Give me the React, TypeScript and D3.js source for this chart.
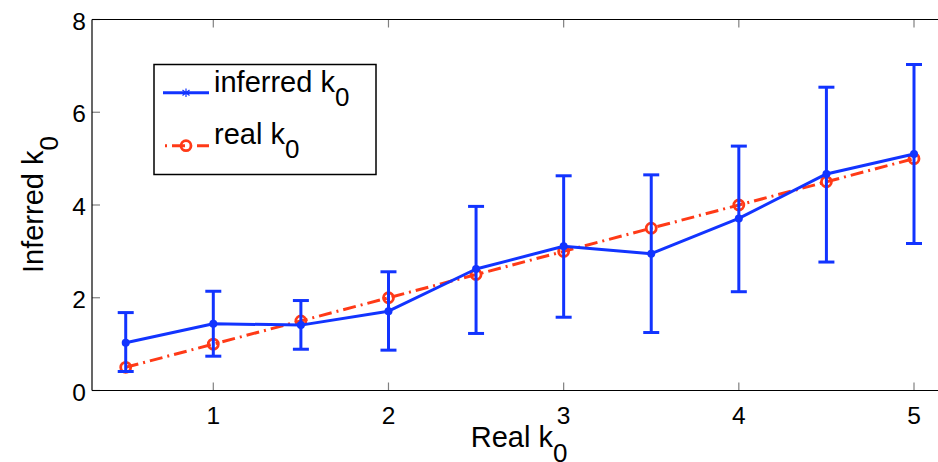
import React from "react";
import * as d3 from "d3";

const realK = [0.5, 1, 1.5, 2, 2.5, 3, 3.5, 4, 4.5, 5];
const inferred = [1.03, 1.44, 1.41, 1.71, 2.62, 3.11, 2.95, 3.71, 4.67, 5.1];
const errUpper = [1.68, 2.14, 1.94, 2.56, 3.97, 4.63, 4.65, 5.27, 6.54, 7.03];
const errLower = [0.41, 0.74, 0.89, 0.87, 1.23, 1.58, 1.25, 2.13, 2.77, 3.17];
const xTicks = [1, 2, 3, 4, 5];
const yTicks = [0, 2, 4, 6, 8];

const W = 938;
const H = 462;
const BLUE = "#1234ff";
const RED = "#ff3a17";
const FONT = "'Liberation Sans', Arial, Helvetica, sans-serif";

export default function App() {
  const x = d3.scaleLinear().domain([1, 5]).range([213.3, 914]);
  const y = d3.scaleLinear().domain([0, 8]).range([390.5, 19.5]);
  const left = 92;
  const right = W + 5;
  const top = y(8);
  const bottom = y(0);

  const blueLine = d3
    .line<number>()
    .x((_, i) => x(realK[i]))
    .y((d) => y(d))(inferred) as string;
  const redLine = d3
    .line<number>()
    .x((d) => x(d))
    .y((d) => y(d))(realK) as string;

  const cap = 8;
  const dash = "13,5,2,5";

  return (
    <svg
      width={W}
      height={H}
      style={{ position: "absolute", left: 0, top: 0, background: "#fff" }}
      fontFamily={FONT}
    >
      <rect x={0} y={0} width={W} height={H} fill="#fff" />
      {/* ticks */}
      {xTicks.map((t) => (
        <g key={"xt" + t}>
          <line x1={x(t)} x2={x(t)} y1={bottom} y2={bottom - 8} stroke="#808080" strokeWidth={1.2} />
          <line x1={x(t)} x2={x(t)} y1={top} y2={top + 8} stroke="#808080" strokeWidth={1.2} />
          <text x={x(t)} y={424} textAnchor="middle" fontSize={24.5} fill="#000">
            {t}
          </text>
        </g>
      ))}
      {yTicks.map((t) => (
        <g key={"yt" + t}>
          <line x1={left} x2={left + 8} y1={y(t)} y2={y(t)} stroke="#808080" strokeWidth={1.2} />
          <text x={86} y={y(t) + 10} textAnchor="end" fontSize={24.5} fill="#000">
            {t}
          </text>
        </g>
      ))}
      {/* axes box */}
      <line x1={left} x2={right} y1={bottom} y2={bottom} stroke="#000" strokeWidth={1.2} />
      <line x1={left} x2={right} y1={top} y2={top} stroke="#000" strokeWidth={1.2} />
      <line x1={left} x2={left} y1={top} y2={bottom} stroke="#000" strokeWidth={1.2} />

      {/* red dash-dot real line */}
      <path d={redLine} fill="none" stroke={RED} strokeWidth={3} strokeDasharray={dash} />
      {realK.map((d, i) => (
        <circle key={"rc" + i} cx={x(d)} cy={y(d)} r={5} fill="none" stroke={RED} strokeWidth={2.8} />
      ))}

      {/* blue error bars */}
      {realK.map((d, i) => (
        <g key={"eb" + i} stroke={BLUE} strokeWidth={3}>
          <line x1={x(d)} x2={x(d)} y1={y(errUpper[i])} y2={y(errLower[i])} />
          <line x1={x(d) - cap} x2={x(d) + cap} y1={y(errUpper[i])} y2={y(errUpper[i])} />
          <line x1={x(d) - cap} x2={x(d) + cap} y1={y(errLower[i])} y2={y(errLower[i])} />
        </g>
      ))}
      <path d={blueLine} fill="none" stroke={BLUE} strokeWidth={3} strokeLinejoin="round" />
      {realK.map((d, i) => (
        <circle key={"bc" + i} cx={x(d)} cy={y(inferred[i])} r={4} fill={BLUE} />
      ))}

      {/* legend */}
      <rect x={154} y={64.5} width={222} height={110} fill="#fff" stroke="#000" strokeWidth={1.5} />
      <line x1={163} x2={209} y1={92.7} y2={92.7} stroke={BLUE} strokeWidth={3} />
      <g stroke={BLUE} strokeWidth={1.2}>
        <line x1={186} x2={186} y1={88.5} y2={97} />
        <line x1={182.5} x2={189.5} y1={90} y2={95.5} />
        <line x1={182.5} x2={189.5} y1={95.5} y2={90} />
      </g>
      <text x={214} y={91.5} fontSize={29} fill="#000">
        inferred k
        <tspan fontSize={26} dy={14}>0</tspan>
      </text>
      <line x1={163} x2={209} y1={145.7} y2={145.7} stroke={RED} strokeWidth={3} strokeDasharray="2,5,13,5" strokeDashoffset={-2} />
      <circle cx={186} cy={145.7} r={5} fill="none" stroke={RED} strokeWidth={2.8} />
      <text x={214} y={144} fontSize={29} fill="#000">
        real k
        <tspan fontSize={26} dy={14}>0</tspan>
      </text>

      {/* axis labels */}
      <text x={470.7} y={446.7} fontSize={29} fill="#000">
        Real k
        <tspan fontSize={26} dy={15}>0</tspan>
      </text>
      <text transform="translate(43,273) rotate(-90)" fontSize={29} fill="#000">
        Inferred k
        <tspan fontSize={26} dy={15}>0</tspan>
      </text>
    </svg>
  );
}
